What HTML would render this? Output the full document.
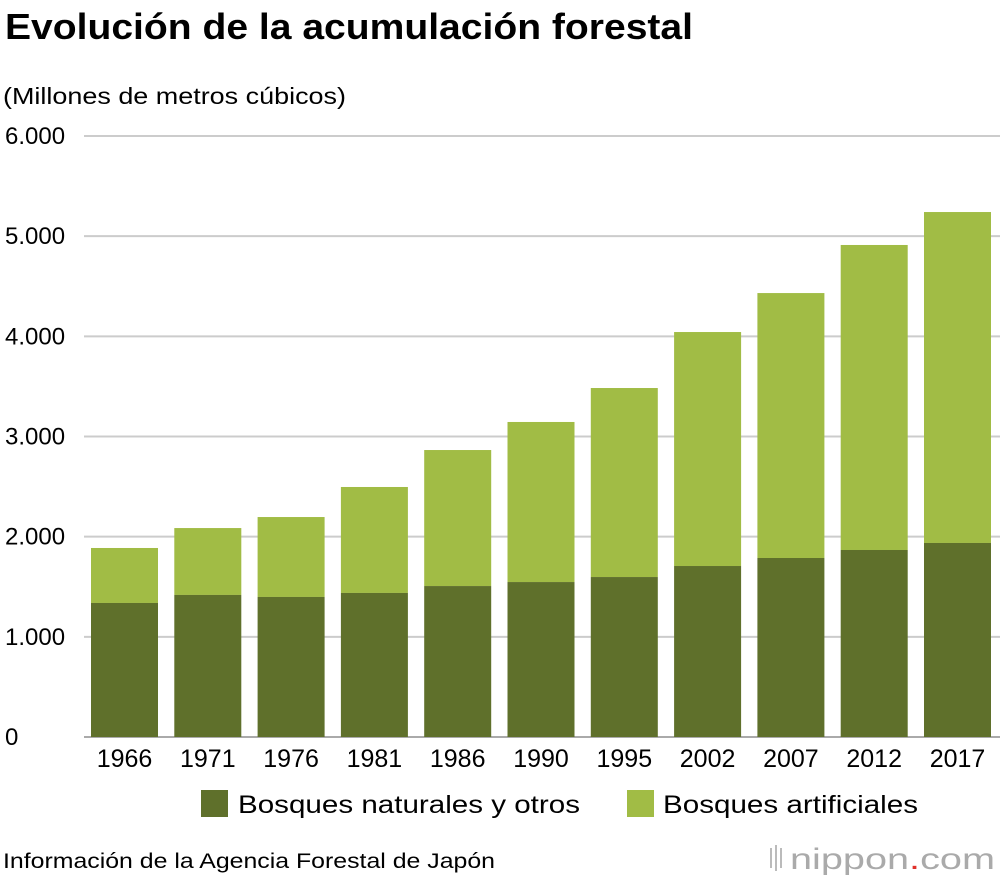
<!DOCTYPE html>
<html><head><meta charset="utf-8"><style>
body{margin:0;background:#fff;font-family:"Liberation Sans",sans-serif;}
svg text{font-family:"Liberation Sans",sans-serif;}
</style></head><body>
<svg id="chart" width="1000" height="880">
<text x="5" y="39" font-size="36" font-weight="bold" fill="#000" textLength="688" lengthAdjust="spacingAndGlyphs">Evolución de la acumulación forestal</text>
<text x="3" y="104" font-size="23" fill="#000" textLength="343" lengthAdjust="spacingAndGlyphs">(Millones de metros cúbicos)</text>
<g id="grid"></g><g id="bars"></g><g id="xlabels"></g>
<g>
<rect x="201" y="790" width="27" height="27" fill="#5f702b"/>
<text x="238" y="813" font-size="25" textLength="342" lengthAdjust="spacingAndGlyphs">Bosques naturales y otros</text>
<rect x="627" y="790" width="27" height="27" fill="#a1bc45"/>
<text x="663" y="813" font-size="25" textLength="255" lengthAdjust="spacingAndGlyphs">Bosques artificiales</text>
</g>
<text x="3" y="868" font-size="21" textLength="492" lengthAdjust="spacingAndGlyphs">Información de la Agencia Forestal de Japón</text>
<g>
<rect x="770" y="848" width="2" height="20" fill="#bbb"/><rect x="775" y="845" width="2" height="26" fill="#bbb"/><rect x="780" y="848" width="2" height="20" fill="#bbb"/>
<text x="790" y="869" font-size="30" fill="#aaa" textLength="205" lengthAdjust="spacingAndGlyphs">nippon<tspan fill="#e0312b">.</tspan>com</text>
</g>
</svg>
<script>
const categories=["1966","1971","1976","1981","1986","1990","1995","2002","2007","2012","2017"];
const natural=[1338,1418,1398,1438,1507,1547,1597,1707,1787,1867,1937];
const total=[1887,2086,2196,2496,2865,3145,3484,4043,4432,4912,5241];
const ticks=[0,1000,2000,3000,4000,5000,6000];
const tickLabels=["0","1.000","2.000","3.000","4.000","5.000","6.000"];
const NS="http://www.w3.org/2000/svg";
const y0=737,y1=136,vmax=6000,x0=84,band=83.3,bw=67;
const yS=v=>y0-(v/vmax)*(y0-y1);
const xS=i=>x0+7+i*band;
function mk(t,a,p){const e=document.createElementNS(NS,t);for(const k in a)e.setAttribute(k,a[k]);p.appendChild(e);return e;}
const g=document.getElementById('grid');
ticks.forEach((t,i)=>{
 const l=mk('line',{x1:x0,x2:1000,y1:yS(t),y2:yS(t),stroke:i==0?'#aaa':'#ccc','stroke-width':2},g);
 
 
 const tx=mk('text',{x:5,y:yS(t)+8,'font-size':24},g);tx.textContent=tickLabels[i];
 
 
});
const b=document.getElementById('bars'),xl=document.getElementById('xlabels');
categories.forEach((c,i)=>{
 const r1=mk('rect',{x:xS(i),y:yS(total[i]),width:bw,height:yS(natural[i])-yS(total[i]),fill:'#a1bc45'},b);
 
 
 const r2=mk('rect',{x:xS(i),y:yS(natural[i]),width:bw,height:y0-yS(natural[i]),fill:'#5f702b'},b);
 
 
 const t=mk('text',{x:xS(i)+bw/2,y:767,'font-size':25,'text-anchor':'middle'},xl);t.textContent=c;
 
 
});
</script>
</body></html>
